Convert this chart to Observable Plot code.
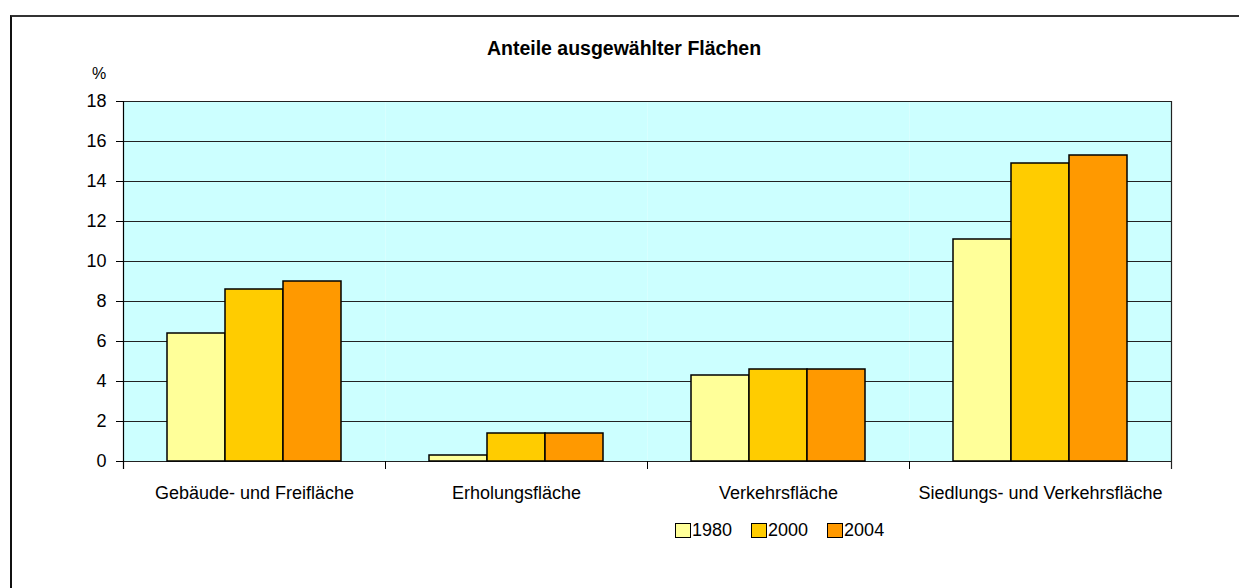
<!DOCTYPE html>
<html>
<head>
<meta charset="utf-8">
<script src="https://cdn.jsdelivr.net/npm/d3@7"></script>
<script src="https://cdn.jsdelivr.net/npm/@observablehq/plot@0.6"></script>
<style>
  html, body { margin: 0; padding: 0; background: #fff; }
  #wrap { position: relative; width: 1239px; height: 588px; overflow: hidden;
          font-family: "Liberation Sans", Arial, sans-serif; color: #000; }
  #border { position: absolute; left: 10px; top: 15px; width: 1400px; height: 800px;
            border-top: 2px solid #333; border-left: 2px solid #111; box-sizing: border-box; }
  #title { position: absolute; left: 0; top: 38.5px; width: 1248px; text-align: center;
           font-weight: bold; font-size: 19.5px; line-height: 1; }
  #unit { position: absolute; left: 92px; top: 66px; font-size: 16px; line-height: 1; }
  #chart { position: absolute; left: 0; top: 80px; }
  #legend { position: absolute; left: 675px; top: 521px; display: flex; gap: 19px; font-size: 18px; line-height: 1; }
  .item { display: flex; align-items: center; }
  .sw { width: 16px; height: 15px; border: 1.5px solid #000; box-sizing: border-box; margin-right: 1px; }
</style>
</head>
<body>
<div id="wrap">
  <div id="border"></div>
  <div id="title">Anteile ausgewählter Flächen</div>
  <div id="unit">%</div>
  <div id="chart"></div>
  <div id="legend"></div>
</div>
<script>
const categories = ["Gebäude- und Freifläche", "Erholungsfläche", "Verkehrsfläche", "Siedlungs- und Verkehrsfläche"];
const years = ["1980", "2000", "2004"];
const values1980 = [6.4, 0.3, 4.3, 11.1];
const values2000 = [8.6, 1.4, 4.6, 14.9];
const values2004 = [9.0, 1.4, 4.6, 15.3];
const yTicks = [0, 2, 4, 6, 8, 10, 12, 14, 16, 18];
const colors = ["#FFFF99", "#FFCC00", "#FF9900"];

const series = [values1980, values2000, values2004];
const rows = [];
categories.forEach((c, i) => {
  years.forEach((y, j) => rows.push({category: c, year: y, value: series[j][i]}));
});

const plotH = 360;
const chart = Plot.plot({
  width: 1239,
  height: 430,
  marginTop: 21,
  marginBottom: 49,
  marginLeft: 123,
  marginRight: 68,
  style: {fontFamily: '"Liberation Sans", Arial, sans-serif', fontSize: "18px", color: "#000", background: "transparent"},
  fx: {domain: categories, padding: 0, label: null},
  x: {domain: years, paddingInner: 0, paddingOuter: 0.74, axis: null},
  y: {domain: [0, 18], axis: null},
  color: {domain: years, range: colors},
  marks: [
    Plot.frame({fill: "#CCFFFF"}),
    Plot.ruleY(yTicks, {y: d => d, stroke: "#222", strokeWidth: 1}),
    Plot.barY(rows, {fx: "category", x: "year", y: "value", fill: "year", stroke: "#000", strokeWidth: 1.5}),
    Plot.frame({anchor: "left", insetTop: plotH, insetBottom: -7, stroke: "#000"}),
    Plot.frame({anchor: "left", facet: "super", insetBottom: -7, stroke: "#000", strokeWidth: 1.2}),
    Plot.frame({anchor: "right", facet: "super", insetBottom: -7, stroke: "#222", strokeWidth: 1.2}),
    Plot.axisY({ticks: yTicks, tickSize: 7, tickPadding: 10, label: null, fontSize: 18}),
    Plot.axisFx({anchor: "bottom", tickSize: 0, tickPadding: 25, label: null, fontSize: 18})
  ]
});
document.getElementById("chart").appendChild(chart);

const legend = document.getElementById("legend");
years.forEach((y, j) => {
  const item = document.createElement("div");
  item.className = "item";
  const sw = document.createElement("div");
  sw.className = "sw";
  sw.style.background = colors[j];
  const t = document.createElement("span");
  t.textContent = y;
  item.appendChild(sw);
  item.appendChild(t);
  legend.appendChild(item);
});
</script>
</body>
</html>
